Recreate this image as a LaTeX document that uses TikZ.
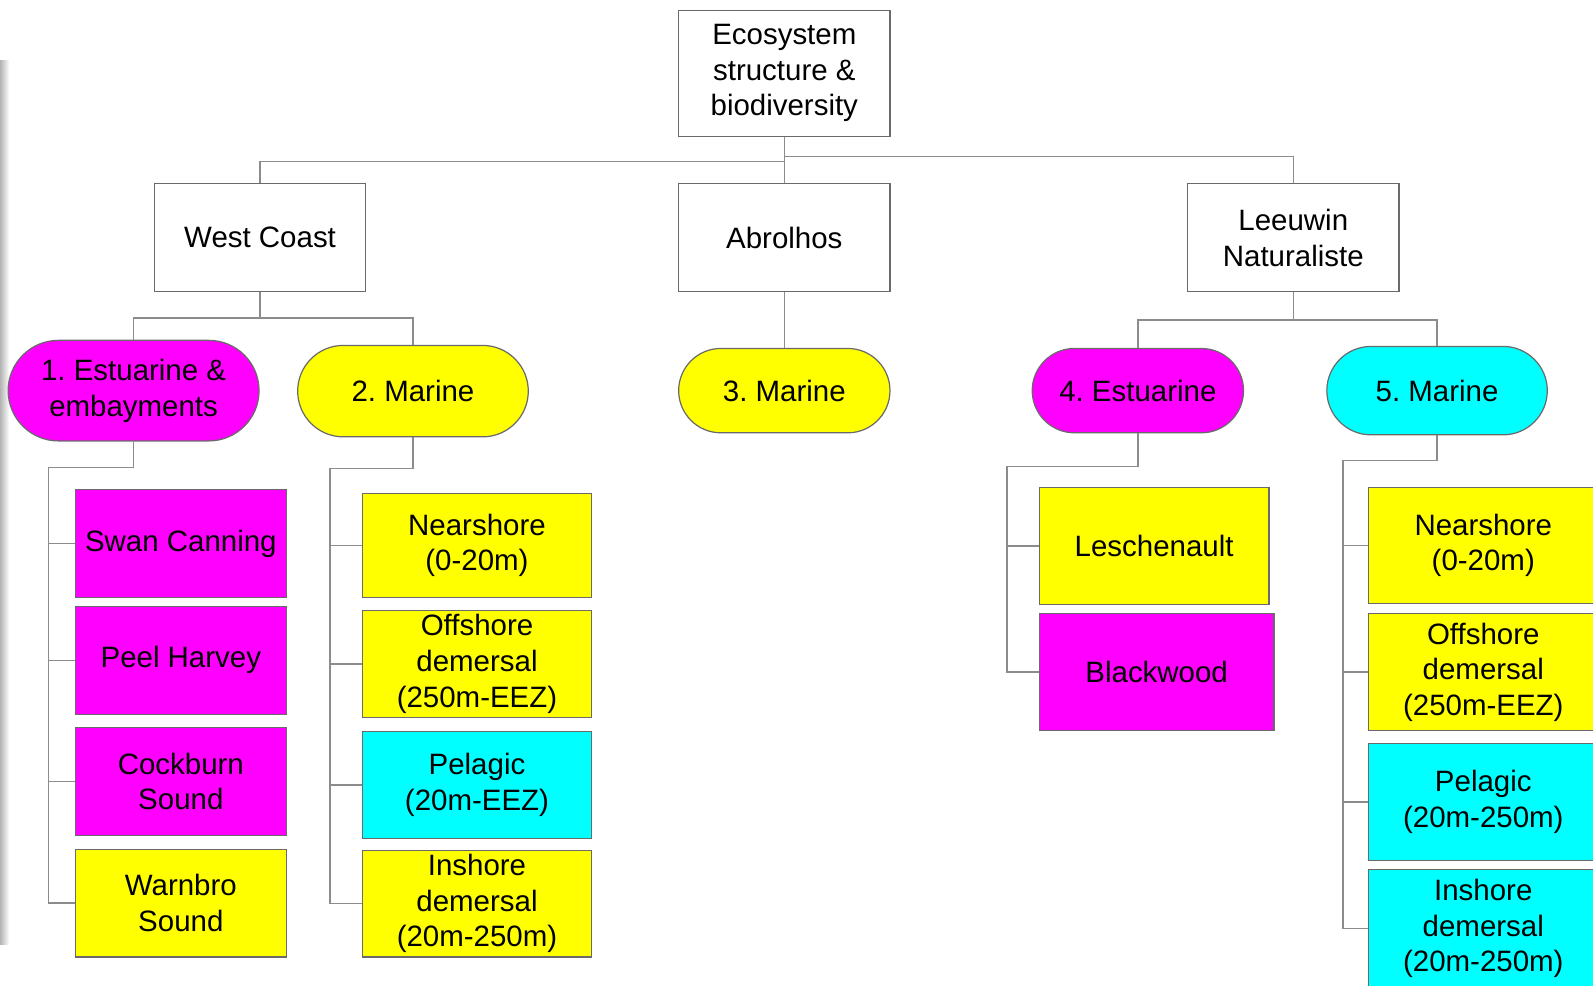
\documentclass[tikz,border=0pt]{standalone}
\usepackage{fontspec}
\setmainfont{Liberation Sans}
\usetikzlibrary{shapes.misc}
\frenchspacing
\definecolor{cmag}{HTML}{FF00FF}
\definecolor{cyel}{HTML}{FFFF00}
\definecolor{ccya}{HTML}{00FFFF}
\definecolor{cbord}{HTML}{6A6A6A}
\definecolor{cline}{HTML}{8C8C8C}
\tikzset{
  base/.style={draw=cbord, line width=1.2pt, inner sep=0pt, align=center,
    font=\fontsize{29}{35}\selectfont\frenchspacing, text=black},
  box/.style={base, rectangle},
  pill/.style={base, rounded rectangle},
  conn/.style={draw=cline, line width=1.4pt},
}
\begin{document}
\begin{tikzpicture}[x=1pt,y=-1pt]
\useasboundingbox (0,0) rectangle (1568,970.5);
\clip (0,0) rectangle (1568,970.5);
\fill[white] (0,0) rectangle (1568,970.5);
\shade[left color=gray!60, right color=white] (0,60) rectangle (9,930);

% level 0
\node[box, minimum width=208pt, minimum height=124pt] (root) at (772,72) {Ecosystem\\structure \&\\biodiversity};
% level 1
\node[box, minimum width=208pt, minimum height=106pt] (wc) at (256,234) {West Coast};
\node[box, minimum width=208pt, minimum height=106pt] (ab) at (772,234) {Abrolhos};
\node[box, minimum width=208pt, minimum height=106pt] (ln) at (1273,234) {Leeuwin\\Naturaliste};
% level 2
\node[pill, fill=cmag, minimum width=247pt, minimum height=99pt] (p1) at (131.5,384.5) {1. Estuarine \&\\embayments};
\node[pill, fill=cyel, minimum width=227pt, minimum height=90pt] (p2) at (406.5,385) {2. Marine};
\node[pill, fill=cyel, minimum width=208pt, minimum height=83pt] (p3) at (772,384.5) {3. Marine};
\node[pill, fill=cmag, minimum width=208pt, minimum height=83pt] (p4) at (1120,384.5) {4. Estuarine};
\node[pill, fill=ccya, minimum width=217pt, minimum height=87pt] (p5) at (1414.5,384.5) {5. Marine};
% column 1
\node[box, fill=cmag, minimum width=208pt, minimum height=106pt] (sc) at (178,535) {Swan Canning};
\node[box, fill=cmag, minimum width=208pt, minimum height=106pt] (ph) at (178,650) {Peel Harvey};
\node[box, fill=cmag, minimum width=208pt, minimum height=106pt] (cs) at (178,769) {Cockburn\\Sound};
\node[box, fill=cyel, minimum width=208pt, minimum height=106pt] (ws) at (178,889) {Warnbro\\Sound};
% column 2
\node[box, fill=cyel, minimum width=225pt, minimum height=102pt] (n2) at (469.5,537) {Nearshore\\(0-20m)};
\node[box, fill=cyel, minimum width=225pt, minimum height=105pt] (o2) at (469.5,653.5) {Offshore\\demersal\\(250m-EEZ)};
\node[box, fill=ccya, minimum width=225pt, minimum height=105pt] (pe2) at (469.5,772.5) {Pelagic\\(20m-EEZ)};
\node[box, fill=cyel, minimum width=225pt, minimum height=105pt] (i2) at (469.5,889.5) {Inshore\\demersal\\(20m-250m)};
% column 4
\node[box, fill=cyel, minimum width=226pt, minimum height=115pt] (le) at (1136,537.5) {Leschenault};
\node[box, fill=cmag, minimum width=231pt, minimum height=115pt] (bw) at (1138.5,661.5) {Blackwood};
% column 5
\node[box, fill=cyel, minimum width=226pt, minimum height=114pt] (n5) at (1460,537) {Nearshore\\(0-20m)};
\node[box, fill=cyel, minimum width=226pt, minimum height=115pt] (o5) at (1460,661.5) {Offshore\\demersal\\(250m-EEZ)};
\node[box, fill=ccya, minimum width=226pt, minimum height=115pt] (pe5) at (1460,789.5) {Pelagic\\(20m-250m)};
\node[box, fill=ccya, minimum width=226pt, minimum height=116pt] (i5) at (1460,914) {Inshore\\demersal\\(20m-250m)};

% junction coordinates
\coordinate (jl) at (772,159);
\coordinate (jr) at (772,154);
\coordinate (jwc) at (256,313);
\coordinate (jln) at (1273,315);
\coordinate (s1) at (48,460);
\coordinate (s2) at (325,461);
\coordinate (s4) at (991,459);
\coordinate (s5) at (1322,453);

% connectors
\draw[conn] (root.south) -- (jl) -| (wc.north);
\draw[conn] (jl) -- (ab.north);
\draw[conn] (root.south |- jr) -| (ln.north);
\draw[conn] (wc.south) -- (jwc) -| (p1.north);
\draw[conn] (jwc) -| (p2.north);
\draw[conn] (ab.south) -- (p3.north);
\draw[conn] (ln.south) -- (jln) -| (p4.north);
\draw[conn] (jln) -| (p5.north);

\draw[conn] (p1.south) |- (s1) |- (ws.west);
\draw[conn] (s1 |- sc.west) -- (sc.west);
\draw[conn] (s1 |- ph.west) -- (ph.west);
\draw[conn] (s1 |- cs.west) -- (cs.west);

\draw[conn] (p2.south) |- (s2) |- (i2.west);
\draw[conn] (s2 |- n2.west) -- (n2.west);
\draw[conn] (s2 |- o2.west) -- (o2.west);
\draw[conn] (s2 |- pe2.west) -- (pe2.west);

\draw[conn] (p4.south) |- (s4) |- (bw.west);
\draw[conn] (s4 |- le.west) -- (le.west);

\draw[conn] (p5.south) |- (s5) |- (i5.west);
\draw[conn] (s5 |- n5.west) -- (n5.west);
\draw[conn] (s5 |- o5.west) -- (o5.west);
\draw[conn] (s5 |- pe5.west) -- (pe5.west);
\end{tikzpicture}
\end{document}
